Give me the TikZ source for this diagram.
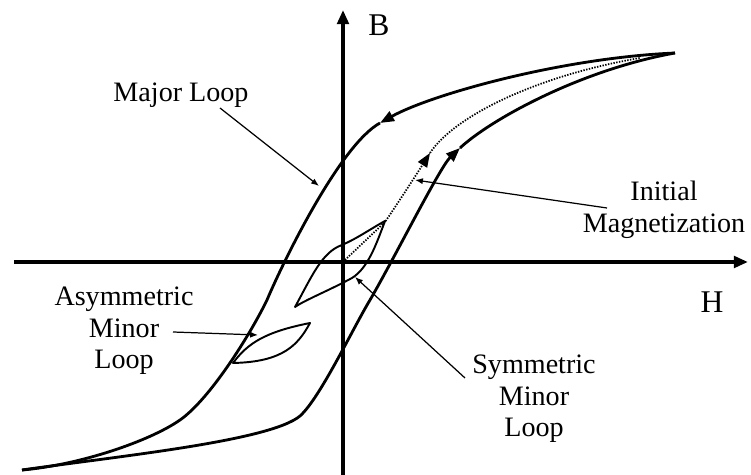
\documentclass[tikz,border=0pt]{standalone}
\usepackage{fontspec}
\setmainfont{Liberation Serif}
\usetikzlibrary{arrows.meta,calc}

\begin{document}
\begin{tikzpicture}[x=0.02cm,y=-0.02cm,>=Latex,
    axis/.style={line width=2pt,-{Triangle[length=8pt,width=6.5pt]}},
    branch/.style={line width=1.6pt,line join=round},
    headed/.style={-{Triangle[length=8pt,width=6pt]}},
    initial/.style={line width=1pt,dash pattern=on 0.8pt off 0.8pt},
    minor/.style={line width=1.1pt,line join=round},
    leader/.style={line width=0.7pt,-{Latex[length=4.5pt,width=3.5pt]}},
    lbl/.style={align=center,inner sep=0pt,font=\fontsize{16}{18}\selectfont}]
  \useasboundingbox (0,0) rectangle (751,475);
  \coordinate (hleft) at (14,262);
  \coordinate (hright) at (748,262);
  \coordinate (bdown) at (343,475);
  \coordinate (bup) at (343,10);
  \draw[axis] (hleft) -- (hright);
  \draw[axis] (bdown) -- (bup);
  \node[lbl,font=\fontsize{18}{20}\selectfont] (blbl) at (379,25) {B};
  \node[lbl,font=\fontsize{18}{20}\selectfont] (hlbl) at (712,302) {H};
  % major loop
  \coordinate (sattop) at (675,53);
  \coordinate (satbot) at (22,470);
  \coordinate (downarr) at (380,123);
  \coordinate (uparr) at (460,148);
  \draw[branch,headed] (sattop) .. controls (560,58) and (430,95) .. (downarr);
  \draw[branch] (downarr) .. controls (340,145) and (283,262) .. (267,300)
    .. controls (250,335) and (210,399) .. (180,420)
    .. controls (150,441) and (80,465) .. (satbot);
  \draw[branch,headed] (satbot) .. controls (120,456) and (270,441) .. (300,416)
    .. controls (320,398) and (352,330) .. (370,300)
    .. controls (395,257) and (440,167) .. (uparr);
  \draw[branch] (uparr) .. controls (490,120) and (580,70) .. (sattop);
  % initial magnetization
  \coordinate (origin) at (345,260);
  \coordinate (initarr) at (430,153);
  \draw[initial,headed] (origin) -- (385,222) .. controls (400,200) and (418,172) .. (initarr);
  \draw[initial] (initarr) .. controls (455,115) and (540,75) .. (640,58);
  % minor loops
  \draw[minor] (295,307) .. controls (312,276) and (322,252) .. (342,245)
    .. controls (358,238) and (372,228) .. (385,221)
    .. controls (376,245) and (368,268) .. (352,278)
    .. controls (330,290) and (305,300) .. cycle;
  \draw[minor] (233,363) .. controls (248,343) and (265,332) .. (310,323)
    .. controls (298,345) and (283,362) .. cycle;
  % labels
  \coordinate (majtip) at (319,186);
  \coordinate (inittip) at (415,180);
  \coordinate (asymtip) at (258,335);
  \coordinate (symtip) at (355,277);
  \node[lbl] (majlbl) at (181,95) {Major Loop};
  \node[lbl] (initlbl) at (664,210) {Initial\\Magnetization};
  \node[lbl] (asymlbl) at (124,331) {Asymmetric\\Minor\\Loop};
  \node[lbl] (symlbl) at (534,399) {Symmetric\\Minor\\Loop};
  \draw[leader] ($(majlbl)+(39,13)$) -- (majtip);
  \draw[leader] ($(initlbl)+(-57,-2)$) -- (inittip);
  \draw[leader] ($(asymlbl)+(49,1)$) -- (asymtip);
  \draw[leader] ($(symlbl)+(-69,-21)$) -- (symtip);
\end{tikzpicture}
\end{document}
